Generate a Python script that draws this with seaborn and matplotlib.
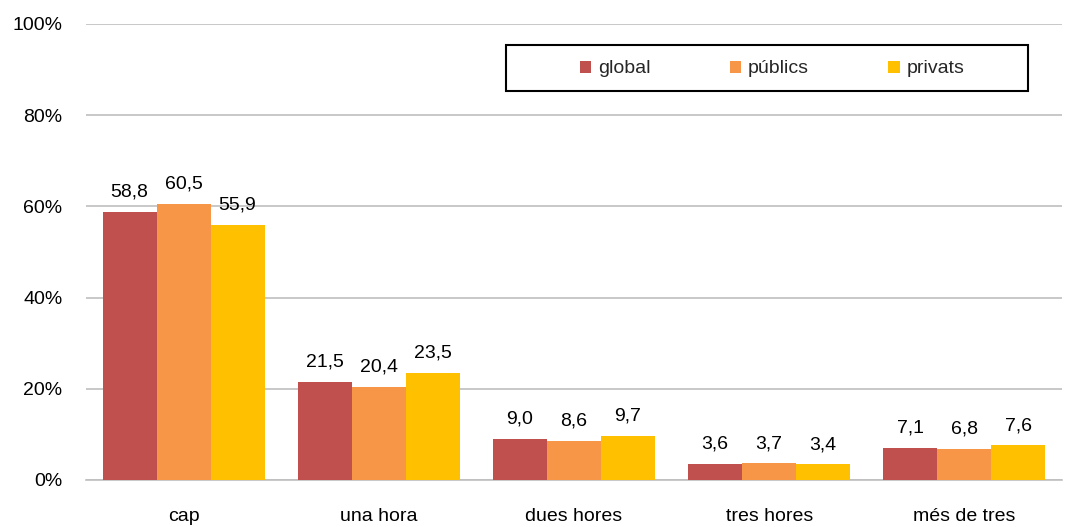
import matplotlib
matplotlib.use("Agg")
import matplotlib.pyplot as plt
import seaborn as sns
import pandas as pd
from matplotlib.ticker import FuncFormatter
from matplotlib.patches import Rectangle

categories = ["cap", "una hora", "dues hores", "tres hores", "més de tres"]
series = ["global", "públics", "privats"]
global_vals = [58.8, 21.5, 9.0, 3.6, 7.1]
publics_vals = [60.5, 20.4, 8.6, 3.7, 6.8]
privats_vals = [55.9, 23.5, 9.7, 3.4, 7.6]
colors = ["#C0504D", "#F79646", "#FFC000"]

rows = []
for name, vals in zip(series, [global_vals, publics_vals, privats_vals]):
    for cat, v in zip(categories, vals):
        rows.append({"categoria": cat, "serie": name, "valor": v})
df = pd.DataFrame(rows)

sns.set_style("white")
plt.rcParams["font.family"] = ["Liberation Sans", "DejaVu Sans"]
FS = 14

fig = plt.figure(figsize=(10.67, 5.27), dpi=100)
ax = fig.add_axes([0.0806, 0.0892, 0.9147, 0.8653])

sns.barplot(data=df, x="categoria", y="valor", hue="serie", palette=colors,
            order=categories, hue_order=series, width=0.83, ax=ax,
            saturation=1, edgecolor="none", linewidth=0, zorder=3)

for container in ax.containers:
    ax.bar_label(container, labels=[f"{v:.1f}".replace(".", ",") for v in container.datavalues],
                 padding=8, fontsize=FS, color="#000000")

ax.set_ylim(0, 100)
ax.set_yticks([0, 20, 40, 60, 80, 100])
ax.yaxis.set_major_formatter(FuncFormatter(lambda v, p: f"{v:.0f}%"))
ax.grid(axis="y", color="#BFBFBF", linewidth=1.2, zorder=0)
ax.set_axisbelow(True)
for s in ["top", "right", "left"]:
    ax.spines[s].set_visible(False)
ax.spines["bottom"].set_color("#BFBFBF")
ax.spines["bottom"].set_linewidth(1.2)
ax.tick_params(axis="y", length=0, pad=17, labelsize=FS, colors="#000000")
ax.tick_params(axis="x", length=0, pad=20, labelsize=FS, colors="#000000")
ax.set_xlabel("")
ax.set_ylabel("")

# legend frame drawn separately so the entries sit centred with wide margins
x0, x1 = (506 - 86) / 976, (1028 - 86) / 976
y0, y1 = (480 - 91) / 456, (480 - 45) / 456
ax.add_patch(Rectangle((x0, y0), x1 - x0, y1 - y0, transform=ax.transAxes,
                       facecolor="white", edgecolor="#000000", linewidth=1.5,
                       zorder=5, clip_on=False))
leg = ax.legend(loc="center", bbox_to_anchor=((772 - 86) / 976, (480 - 69) / 456),
                ncol=3, frameon=False, fontsize=FS,
                handlelength=0.57, handleheight=0.57, handletextpad=0.35,
                borderpad=0.2, columnspacing=4.1)
leg.set_zorder(6)

fig.savefig("out.png", dpi=100)
